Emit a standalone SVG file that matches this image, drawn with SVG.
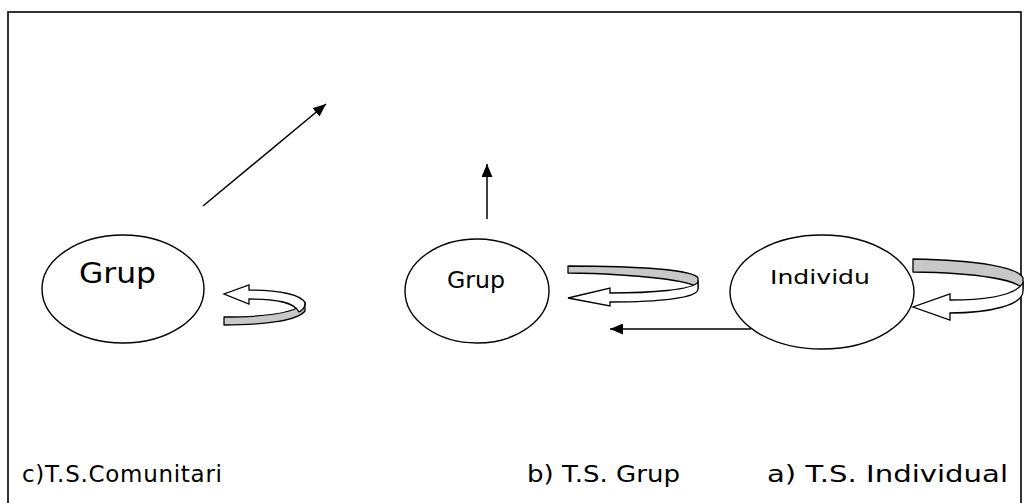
<svg xmlns="http://www.w3.org/2000/svg" width="1025" height="503" viewBox="0 0 1025 503">
<defs>
<marker id="ah" viewBox="0 0 13 11" refX="13" refY="5.5" markerWidth="13" markerHeight="11" markerUnits="userSpaceOnUse" orient="auto">
<path d="M0,0 L13,5.5 L0,11 Z" fill="#000"/>
</marker>
</defs>
<style>
.node{fill:#fff;stroke:#000;stroke-width:1.4}
.lbl{font-family:"DejaVu Sans","Verdana",sans-serif;fill:#000}
.conn{stroke:#000;stroke-width:1.5;fill:none;marker-end:url(#ah)}
.band{fill:#c8c8c8;stroke:#000;stroke-width:1.3;stroke-linejoin:round}
.wa{fill:#fff;stroke:#000;stroke-width:1.3;stroke-linejoin:miter}
</style>
<rect x="8" y="12" width="1013" height="530" fill="#fff" stroke="#000" stroke-width="1.6"/>

<g id="node-grup-c">
<ellipse class="node" cx="123" cy="289" rx="81" ry="54"/>
<text class="lbl" x="79" y="283" font-size="29" textLength="77" lengthAdjust="spacingAndGlyphs">Grup</text>
</g>
<g id="node-grup-b">
<ellipse class="node" cx="477" cy="291" rx="72" ry="52"/>
<text class="lbl" x="447" y="288" font-size="23" textLength="58" lengthAdjust="spacingAndGlyphs">Grup</text>
</g>
<g id="node-individu">
<ellipse class="node" cx="822" cy="292" rx="92" ry="57"/>
<text class="lbl" x="770" y="284" font-size="20" textLength="100" lengthAdjust="spacingAndGlyphs">Individu</text>
</g>

<g id="connectors">
<line class="conn" x1="203" y1="206" x2="326" y2="104"/>
<line class="conn" x1="487" y1="219" x2="487" y2="164"/>
<line class="conn" x1="751" y1="329" x2="610" y2="329"/>
</g>

<g id="loop-c">
<path class="band" d="M224,317 C268,317 298,312 305,302 L305,311 C298,320 268,325 224,325 Z"/>
<path class="wa" d="M305,303 C302,295 280,290 249,290 L249,285 L224,294 L249,304 L249,299 C276,299 294,302 299,312 C303,310 305,307 305,303 Z"/>
</g>
<g id="loop-b">
<path class="band" d="M568,266 C640,266 694,270 698,278 L698,288 C693,281 640,274 568,273 Z"/>
<path class="wa" d="M698,282 C693,290 650,293 610,293 L610,288 L568,298 L610,306 L610,302 C660,302 698,298 698,289 Z"/>
</g>
<g id="loop-a">
<path class="band" d="M913,259 C980,260 1019,268 1023,278 L1023,289 C1017,280 980,273 913,272 Z"/>
<path class="wa" d="M1023,283 C1015,296 985,300 950,300 L950,294 L913,307 L950,320 L950,313 C990,313 1023,305 1023,291 Z"/>
</g>

<g id="labels">
<text class="lbl" x="22" y="482" font-size="23" textLength="200" lengthAdjust="spacing">c)T.S.Comunitari</text>
<text class="lbl" x="527" y="482" font-size="23" textLength="153" lengthAdjust="spacingAndGlyphs">b) T.S. Grup</text>
<text class="lbl" x="767" y="482" font-size="23" textLength="241" lengthAdjust="spacingAndGlyphs">a) T.S. Individual</text>
</g>
</svg>
